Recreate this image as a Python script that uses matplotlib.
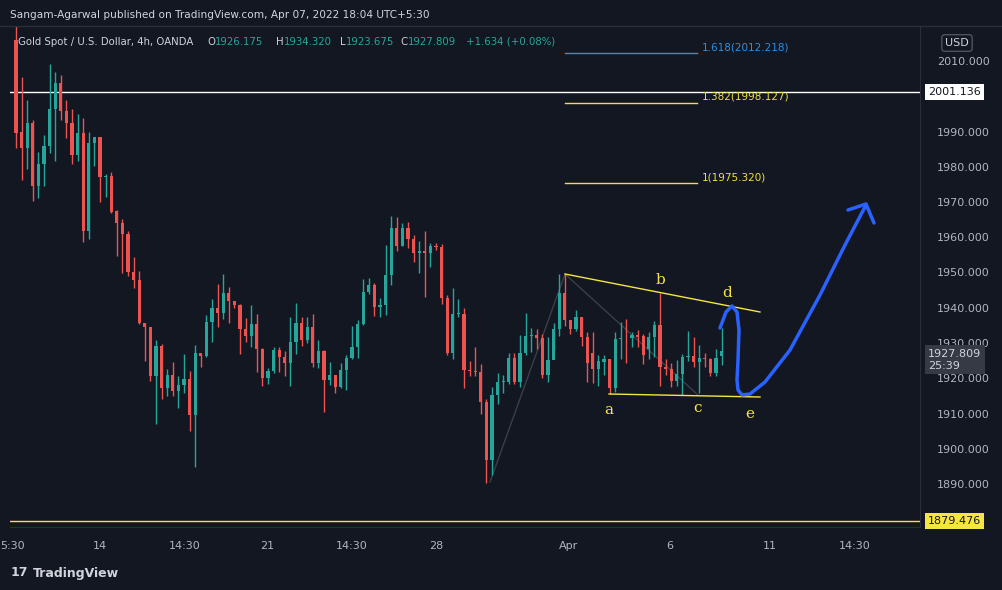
import matplotlib
matplotlib.use("Agg")
import matplotlib.pyplot as plt
import numpy as np
from matplotlib.transforms import blended_transform_factory

# ---------------- data (4h OHLC) ----------------
opens = [2016.0, 1989.9, 1985.4, 1992.3, 1974.4, 1980.8, 1985.9, 1996.4, 2003.8, 1995.9,
         1992.3, 1983.4, 1989.5, 1961.9, 1986.6, 1988.3, 1977.0, 1977.5, 1967.5, 1964.1,
         1960.8, 1950.2, 1947.9, 1935.8, 1934.6, 1920.5, 1929.2, 1917.3, 1920.9, 1916.5,
         1918.1, 1919.7, 1909.6, 1927.1, 1926.4, 1935.9, 1939.8, 1938.6, 1944.1, 1942.0,
         1940.8, 1933.9, 1932.1, 1935.3, 1928.2, 1920.2, 1922.1, 1928.0, 1926.0, 1924.4,
         1930.2, 1935.6, 1930.9, 1934.6, 1924.4, 1927.7, 1919.5, 1920.9, 1917.6, 1922.3,
         1925.7, 1928.9, 1935.4, 1944.4, 1946.5, 1940.1, 1940.8, 1949.3, 1962.6, 1957.6,
         1962.6, 1959.5, 1955.4, 1956.1, 1955.6, 1957.6, 1957.3, 1942.7, 1927.1, 1938.2,
         1938.2, 1922.3, 1922.0, 1921.9, 1913.4, 1896.8, 1915.2, 1919.0, 1919.0, 1925.7,
         1919.0, 1927.1, 1932.0, 1932.3, 1931.5, 1920.9, 1925.2, 1933.9, 1944.1, 1936.5,
         1934.0, 1937.3, 1931.8, 1927.1, 1922.6, 1924.7, 1925.4, 1917.1, 1931.1, 1931.5,
         1931.3, 1932.3, 1932.0, 1928.3, 1931.8, 1935.1, 1923.3, 1922.6, 1919.2, 1921.2,
         1926.1, 1926.4, 1924.7, 1925.7, 1925.4, 1921.4, 1926.175]
closes = [1989.7, 1985.4, 1992.3, 1974.4, 1980.8, 1985.9, 1996.4, 2003.8, 1995.9, 1992.3,
          1983.4, 1989.5, 1961.9, 1986.6, 1988.3, 1977.0, 1977.5, 1967.1, 1964.1, 1960.8,
          1950.2, 1947.9, 1935.8, 1934.6, 1920.5, 1929.2, 1917.3, 1920.9, 1916.5, 1918.1,
          1919.7, 1909.6, 1927.1, 1926.4, 1935.9, 1939.8, 1938.6, 1944.1, 1942.0, 1940.8,
          1933.9, 1932.1, 1935.3, 1928.2, 1920.2, 1922.1, 1928.0, 1926.0, 1924.4, 1930.2,
          1935.6, 1930.9, 1934.6, 1924.4, 1927.7, 1919.5, 1920.9, 1917.6, 1922.3, 1925.7,
          1928.9, 1935.4, 1944.4, 1946.5, 1940.1, 1940.8, 1949.3, 1962.6, 1957.6, 1962.6,
          1959.5, 1955.4, 1956.1, 1955.6, 1957.6, 1957.3, 1942.7, 1927.1, 1938.2, 1938.2,
          1922.3, 1922.0, 1921.9, 1913.4, 1896.8, 1915.2, 1919.0, 1919.0, 1925.7, 1919.0,
          1927.1, 1932.0, 1932.3, 1931.5, 1920.9, 1925.2, 1933.9, 1944.1, 1936.5, 1934.0,
          1937.3, 1931.8, 1924.2, 1922.6, 1924.9, 1925.4, 1917.1, 1931.1, 1931.5, 1931.3,
          1932.3, 1931.8, 1926.6, 1931.8, 1935.1, 1923.3, 1922.6, 1919.2, 1921.2, 1926.1,
          1926.4, 1924.7, 1925.7, 1925.4, 1921.4, 1925.8, 1927.809]
highs = [2020.0, 2005.6, 1999.0, 1993.3, 1984.3, 1989.0, 2009.2, 2006.9, 2006.0, 1999.0,
         1996.4, 1995.0, 1993.8, 1989.9, 1988.3, 1988.3, 1978.0, 1978.4, 1967.8, 1965.2,
         1961.8, 1954.3, 1950.4, 1935.8, 1934.6, 1930.9, 1929.7, 1922.6, 1924.7, 1920.6,
         1926.9, 1922.0, 1929.4, 1927.0, 1938.0, 1942.4, 1946.7, 1949.5, 1945.8, 1941.5,
         1941.0, 1937.0, 1940.8, 1938.2, 1928.5, 1923.0, 1929.0, 1929.0, 1927.6, 1937.5,
         1941.3, 1937.3, 1937.3, 1938.2, 1930.9, 1928.0, 1924.5, 1918.5, 1924.2, 1926.5,
         1934.8, 1936.5, 1948.2, 1948.3, 1947.0, 1942.9, 1957.8, 1966.0, 1965.8, 1964.0,
         1964.2, 1960.5, 1959.0, 1961.8, 1958.5, 1958.5, 1958.0, 1943.5, 1945.5, 1942.5,
         1939.8, 1924.8, 1929.0, 1924.0, 1914.0, 1917.4, 1921.4, 1920.8, 1927.1, 1927.1,
         1932.3, 1938.4, 1934.2, 1933.9, 1932.5, 1931.8, 1935.6, 1949.6, 1949.6, 1934.9,
         1939.4, 1937.5, 1933.2, 1933.2, 1926.6, 1926.6, 1925.4, 1933.0, 1935.9, 1936.8,
         1933.2, 1933.7, 1932.5, 1933.0, 1936.3, 1944.1, 1925.4, 1924.2, 1925.2, 1926.8,
         1933.4, 1931.8, 1929.4, 1927.1, 1925.8, 1928.3, 1934.32]
lows = [1985.2, 1976.1, 1979.4, 1970.4, 1971.0, 1974.4, 1983.8, 1981.7, 1993.3, 1988.2,
        1980.8, 1981.5, 1958.6, 1959.5, 1980.3, 1970.1, 1971.5, 1967.0, 1954.8, 1949.8,
        1949.0, 1945.7, 1935.5, 1925.0, 1919.3, 1906.9, 1914.0, 1915.0, 1915.0, 1911.7,
        1915.7, 1904.9, 1894.9, 1923.3, 1926.0, 1930.2, 1934.6, 1936.7, 1935.6, 1939.8,
        1926.8, 1930.2, 1929.0, 1921.7, 1917.9, 1918.3, 1921.4, 1921.9, 1920.6, 1917.9,
        1927.0, 1929.2, 1930.1, 1923.3, 1922.8, 1910.5, 1918.1, 1915.7, 1917.1, 1916.7,
        1925.4, 1925.7, 1935.0, 1943.9, 1937.7, 1937.5, 1938.0, 1946.5, 1956.2, 1957.5,
        1957.0, 1953.1, 1950.0, 1943.0, 1951.7, 1956.5, 1941.0, 1926.5, 1925.4, 1937.5,
        1917.1, 1920.5, 1920.5, 1910.0, 1890.4, 1892.6, 1912.7, 1915.9, 1918.5, 1918.5,
        1917.5, 1926.5, 1927.5, 1928.2, 1920.0, 1919.0, 1928.0, 1932.0, 1934.8, 1932.5,
        1933.5, 1929.2, 1918.8, 1918.6, 1917.9, 1921.0, 1915.4, 1916.0, 1925.4, 1924.4,
        1928.8, 1929.0, 1924.0, 1925.4, 1926.0, 1917.9, 1921.0, 1917.6, 1917.8, 1915.3,
        1925.0, 1923.3, 1915.7, 1923.3, 1920.6, 1920.6, 1923.675]

xtick_pos = [-0.7, 15, 30.2, 44.8, 60, 75, 98.75, 116.8, 134.6, 149.8]
xtick_labels = ["5:30", "14", "14:30", "21", "14:30", "28", "Apr", "6", "11", "14:30"]
ytick_vals = [1890, 1900, 1910, 1920, 1930, 1940, 1950, 1960, 1970, 1980, 1990, 2010]

fib_levels = [(2012.218, "1.618(2012.218)", "#2e8ee0"),
              (1998.127, "1.382(1998.127)", "#f0e040"),
              (1975.320, "1(1975.320)", "#f0e040")]

BG = "#131722"
GREEN = "#26a69a"
RED = "#ef5350"
TXT = "#b2b5be"
YEL = "#f5e642"

W, H = 1002, 590
AX_L, AX_R, AX_T, AX_B = 10, 920, 27, 527


def px_x(x):
    return (x - 16) / 5.6


def px_y(y):
    return 2010 - (y - 61) / 3.525


fig = plt.figure(figsize=(W / 100, H / 100), dpi=100, facecolor=BG)
ax = fig.add_axes([AX_L / W, 1 - AX_B / H, (AX_R - AX_L) / W, (AX_B - AX_T) / H])
ax.set_facecolor(BG)

n = len(closes)
idx = np.arange(n)
o = np.array(opens)
c = np.array(closes)
cols = np.where(c >= o, GREEN, RED)
ax.vlines(idx, lows, highs, colors=cols, linewidth=1, zorder=3)
ax.bar(idx, np.maximum(np.abs(c - o), 0.25), bottom=np.minimum(o, c), width=0.6,
       color=cols, zorder=4)

ax.set_xlim(px_x(AX_L), px_x(AX_R))
ax.set_ylim(px_y(AX_B), px_y(AX_T))

# horizontal levels
ax.axhline(2001.136, color="#ffffff", linewidth=1, zorder=2)
ax.axhline(1879.476, color=YEL, linewidth=1, zorder=2)

# fib extension
for lvl, lab, col in fib_levels:
    ax.plot([px_x(565), px_x(697)], [lvl, lvl], color=col, linewidth=1, zorder=5)
    ax.text(px_x(702), lvl + 0.3, lab, color=col, fontsize=7.5, va="bottom", ha="left")

# triangle
ax.plot([px_x(565), px_x(760)], [px_y(274), px_y(312)], color=YEL, lw=1, zorder=5)
ax.plot([px_x(609), px_x(760)], [px_y(394), px_y(397)], color=YEL, lw=1, zorder=5)
ax.plot([px_x(490), px_x(565), px_x(698)], [px_y(482), px_y(274), px_y(395)],
        color="#3a3e48", lw=1, zorder=2)
for lx, ly, s in [(609, 410, "a"), (660, 280, "b"), (698, 408, "c"), (727, 293, "d"), (750, 414, "e")]:
    ax.text(px_x(lx), px_y(ly), s, color=YEL, fontsize=11, family="DejaVu Serif",
            ha="center", va="center", zorder=6)

# blue projection
bx = [720, 726, 732, 737, 739, 738, 737, 738, 742, 750, 765, 790, 820, 845, 866]
by = [328, 312, 306, 312, 330, 360, 380, 390, 395, 394, 382, 350, 295, 245, 205]
ax.plot([px_x(v) for v in bx], [px_y(v) for v in by], color="#2962ff", lw=2.5,
        solid_capstyle="round", solid_joinstyle="round", zorder=7)
ax.plot([px_x(848), px_x(866), px_x(874)], [px_y(210), px_y(204), px_y(223)],
        color="#2962ff", lw=2.5, solid_capstyle="round", zorder=7)

# axes styling
for sp in ["top", "left"]:
    ax.spines[sp].set_visible(False)
ax.spines["right"].set_color("#2a2e39")
ax.spines["bottom"].set_color("#2a2e39")
ax.yaxis.tick_right()
ax.set_yticks(ytick_vals)
ax.set_yticklabels([f"{v:.3f}" for v in ytick_vals])
ax.set_xticks(xtick_pos)
ax.set_xticklabels(xtick_labels)
ax.tick_params(colors=TXT, labelsize=8, length=0, pad=10)
ax.tick_params(axis="y", pad=12)

tr = blended_transform_factory(ax.transAxes, ax.transData)
ax.text(1.009, 2001.136, "2001.136", transform=tr, fontsize=8, color="#131722", va="center",
        bbox=dict(boxstyle="square,pad=0.25", fc="#ffffff", ec="none"))
ax.text(1.009, 1879.476, "1879.476", transform=tr, fontsize=8, color="#131722", va="center",
        bbox=dict(boxstyle="square,pad=0.25", fc=YEL, ec="none"))
ax.text(1.009, 1925.2, "1927.809\n25:39", transform=tr, fontsize=8, color="#d1d4dc",
        va="center", linespacing=1.3,
        bbox=dict(boxstyle="square,pad=0.3", fc="#363a45", ec="none"))

# header / footer
fig.text(10 / W, 1 - 15 / H, "Sangam-Agarwal published on TradingView.com, Apr 07, 2022 18:04 UTC+5:30",
         color="#d1d4dc", fontsize=7.6, va="center")
fig.add_artist(plt.Line2D([0, 1], [1 - 26 / H, 1 - 26 / H], color="#2a2e39", lw=1))
fig.text(18 / W, 1 - 42 / H, "Gold Spot / U.S. Dollar, 4h, OANDA", color="#d1d4dc",
         fontsize=7.3, va="center")
for xp, s, col in [(207, "O", "#d1d4dc"), (215, "1926.175", GREEN), (276, "H", "#d1d4dc"),
                   (284, "1934.320", GREEN), (340, "L", "#d1d4dc"), (346, "1923.675", GREEN),
                   (400, "C", "#d1d4dc"), (408, "1927.809", GREEN), (466, "+1.634 (+0.08%)", GREEN)]:
    fig.text(xp / W, 1 - 42 / H, s, color=col, fontsize=7.3, va="center")
fig.text(957 / W, 1 - 43 / H, "USD", color="#d1d4dc", fontsize=8, va="center", ha="center",
         bbox=dict(boxstyle="round,pad=0.3", fc=BG, ec="#50535e"))
fig.text(33 / W, 1 - 573 / H, "TradingView", color="#d1d4dc", fontsize=9,
         fontweight="bold", va="center")
fig.text(11 / W, 1 - 573 / H, "17", color="#d1d4dc", fontsize=9, fontweight="bold", va="center")

fig.savefig("out.png", dpi=100, facecolor=BG)
